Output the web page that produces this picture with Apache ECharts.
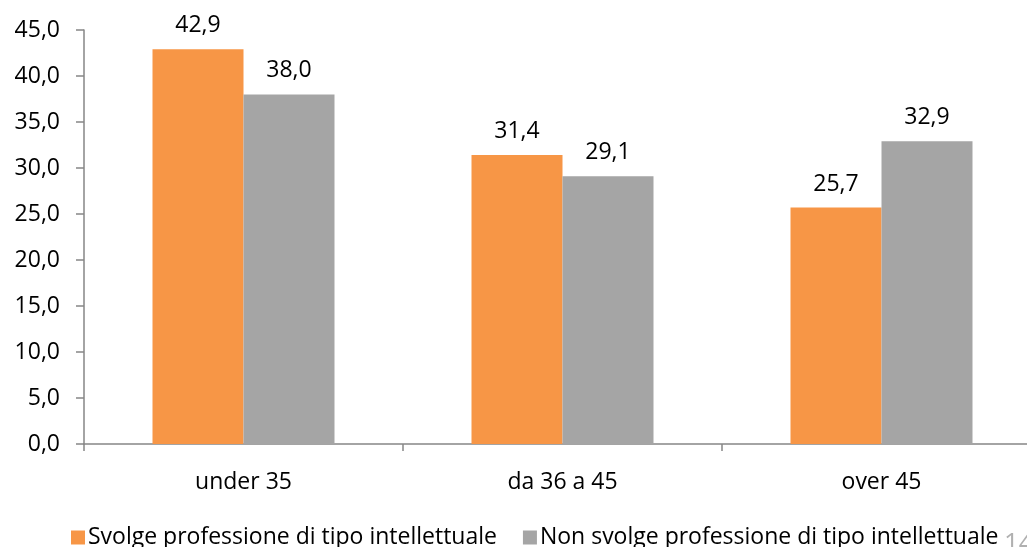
<!DOCTYPE html>
<html>
<head>
<meta charset="utf-8">
<script src="https://cdn.jsdelivr.net/npm/echarts@6/dist/echarts.min.js"></script>
<style>
  html, body { margin: 0; padding: 0; background: #fff; }
  #chart { width: 1027px; height: 547px; }
</style>
</head>
<body>
<div id="chart"></div>
<script>
// Age groups on the category axis
const categories = ['under 35', 'da 36 a 45', 'over 45'];
// Series names as shown in the legend
const seriesNames = [
  'Svolge professione di tipo intellettuale',
  'Non svolge professione di tipo intellettuale'
];
// Percentages per age group
const intellettuale = [42.9, 31.4, 25.7];
const nonIntellettuale = [38.0, 29.1, 32.9];
const pageNumber = '14';

const FONT = '"Open Sans", "Noto Sans", sans-serif';
const fmt = v => v.toFixed(1).replace('.', ',');

const chart = echarts.init(document.getElementById('chart'), null, { renderer: 'canvas' });

chart.setOption({
  animation: false,
  backgroundColor: '#ffffff',
  textStyle: { fontFamily: FONT, color: '#000' },
  // the plot runs a little past the right edge of the page
  grid: {
    left: 84, top: 30, right: -14, bottom: 103,
    containLabel: false,
    outerBoundsMode: 'none'
  },
  legend: {
    left: 66,
    top: 521,
    itemWidth: 14,
    itemHeight: 14,
    itemGap: 26,
    icon: 'rect',
    textStyle: { fontFamily: FONT, fontSize: 23, color: '#000', padding: [0, 0, 0, -2] },
    data: seriesNames
  },
  xAxis: {
    type: 'category',
    data: categories,
    axisLine: { lineStyle: { color: '#868686', width: 1.5 } },
    axisTick: { show: true, length: 7, lineStyle: { color: '#868686', width: 1.5 } },
    axisLabel: { fontFamily: FONT, fontSize: 23, color: '#000', margin: 27 },
    splitLine: { show: false }
  },
  yAxis: {
    type: 'value',
    min: 0,
    max: 45,
    interval: 5,
    axisLine: { show: true, lineStyle: { color: '#868686', width: 1.5 } },
    axisTick: { show: true, inside: false, length: 8, lineStyle: { color: '#868686', width: 1.5 } },
    axisLabel: { fontFamily: FONT, fontSize: 23, color: '#000', margin: 24, formatter: v => fmt(v) },
    splitLine: { show: false }
  },
  series: [
    {
      name: seriesNames[0],
      type: 'bar',
      data: intellettuale,
      barWidth: 91,
      barGap: '0%',
      itemStyle: { color: '#F79646' },
      label: {
        show: true, position: 'top', distance: 12,
        fontFamily: FONT, fontSize: 23, color: '#000',
        formatter: p => fmt(p.value)
      }
    },
    {
      name: seriesNames[1],
      type: 'bar',
      data: nonIntellettuale,
      barWidth: 91,
      barGap: '0%',
      itemStyle: { color: '#A5A5A5' },
      label: {
        show: true, position: 'top', distance: 12,
        fontFamily: FONT, fontSize: 23, color: '#000',
        formatter: p => fmt(p.value)
      }
    }
  ],
  graphic: [
    {
      type: 'text',
      left: 1004,
      top: 531,
      silent: true,
      z: -1,
      style: { text: pageNumber, font: '26px ' + FONT, fill: '#b0b0b0' }
    }
  ]
});
</script>
</body>
</html>
